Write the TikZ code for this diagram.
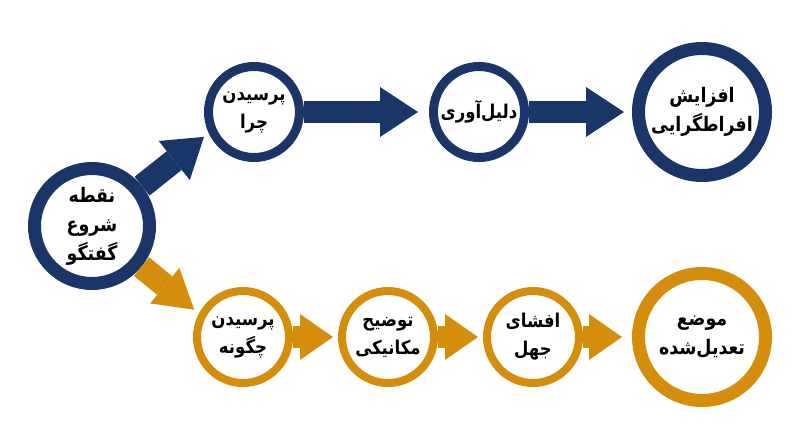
\documentclass[tikz,border=0pt]{standalone}
\usepackage{fontspec}
\usetikzlibrary{arrows.meta}
\TeXXeTstate=1
\newfontfamily\farsifont[Script=Arabic, FakeStretch=0.87]{DejaVu Sans}
\definecolor{navy}{HTML}{1A3668}
\definecolor{amber}{HTML}{D58E0B}
\newcommand{\fa}[1]{\beginR #1\endR}

\begin{document}
\begin{tikzpicture}[x=1pt, y=-1pt, font=\farsifont\bfseries\fontsize{19}{28}\selectfont]
    \tikzstyle{bluering} = [circle, draw=navy, fill=white, line width=9pt, minimum size=91pt, inner sep=0pt, align=center]
    \tikzstyle{goldring} = [circle, draw=amber, fill=white, line width=8pt, minimum size=92pt, inner sep=0pt, align=center]
    \tikzstyle{bigtext} = [font=\farsifont\bfseries\fontsize{20}{29}\selectfont]
    \tikzstyle{bluearrow} = [draw=navy, line width=22pt, -{Triangle[width=50pt, length=38pt, line width=0pt]}]
    \tikzstyle{goldarrow} = [draw=amber, line width=22pt, -{Triangle[width=46pt, length=33pt, line width=0pt]}]
    \useasboundingbox (0,0) rectangle (800,447);

% top row
\node[bluering, bigtext, line width=13pt, minimum size=115pt] (start) at (92,226) {\fa{نقطه}\\\fa{شروع}\\\fa{گفتگو}};
\node[bluering] (why) at (254,112) {\fa{پرسیدن}\\\fa{چرا}};
\node[bluering] (reason) at (479,112) {\fa{دلیل‌آوری}};
\node[bluering, bigtext, line width=13pt, minimum size=127pt] (extreme) at (702,112) {\fa{افزایش}\\\fa{افراطگرایی}};

% bottom row
\node[goldring] (how) at (243,337) {\fa{پرسیدن}\\\fa{چگونه}};
\node[goldring] (mech) at (388,337) {\fa{توضیح}\\\fa{مکانیکی}};
\node[goldring] (ignor) at (533,337) {\fa{افشای}\\\fa{جهل}};
\node[goldring, bigtext, line width=13pt, minimum size=127pt] (moderate) at (702,337) {\fa{موضع}\\\fa{تعدیل‌شده}};

\draw[bluearrow, line width=24pt, shorten >=6pt] (start) -- (why.205);
\draw[bluearrow, shorten >=11pt] (why) -- (reason);
\draw[bluearrow, shorten >=8pt] (reason) -- (extreme);

\draw[goldarrow, line width=24pt, shorten >=6pt, -{Triangle[width=46pt, length=38pt, line width=0pt]}] (start) -- (how.152);
\draw[goldarrow, shorten >=5pt] (how) -- (mech);
\draw[goldarrow, shorten >=5pt] (mech) -- (ignor);
\draw[goldarrow, shorten >=10pt] (ignor) -- (moderate);
\end{tikzpicture}
\end{document}
